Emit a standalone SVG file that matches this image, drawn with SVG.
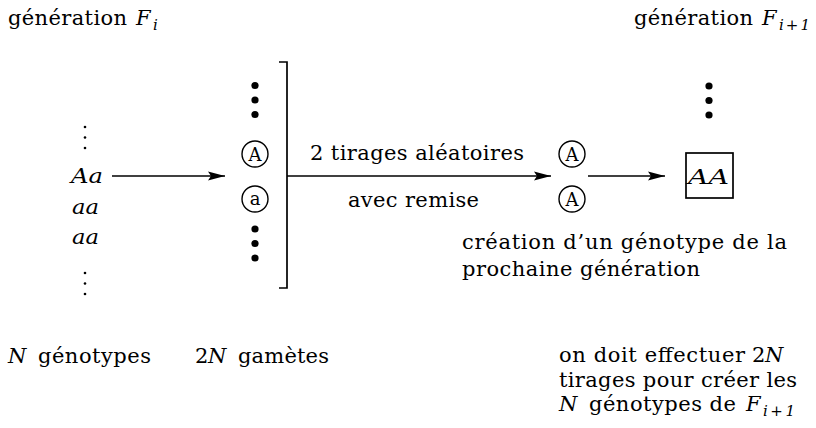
<svg xmlns="http://www.w3.org/2000/svg" width="816" height="428" viewBox="0 0 816 428">
<defs>
<style>
text{font-family:'DejaVu Serif',serif;font-size:21px;fill:#000}
.it{font-style:italic}
.sub{font-style:italic;font-size:15px}
.ln{stroke:#000;stroke-width:1.7;fill:none}
.circ{stroke:#000;stroke-width:1.4;fill:#fff}
.ct{font-size:18px;text-anchor:middle}
</style>
<marker id="ah" markerWidth="18" markerHeight="10" viewBox="0 0 18 10" refX="17" refY="5" orient="auto" markerUnits="userSpaceOnUse">
<path d="M0,0.5 L17,5 L0,9.5 L3,5 Z" fill="#000"/>
</marker>
</defs>
<g id="titles">
<text x="8" y="25" textLength="119">génération</text>
<text class="it" x="136" y="25">F</text>
<text class="sub" x="153" y="30">i</text>
<text x="634" y="25" textLength="119">génération</text>
<text class="it" x="762" y="25">F</text>
<text class="sub" x="779" y="30" textLength="31">i+1</text>
</g>
<g id="genotypes">
<circle cx="85" cy="127" r="1.3"/><circle cx="85" cy="137.5" r="1.3"/><circle cx="85" cy="148" r="1.3"/>
<text class="it" x="71" y="183" font-size="22" textLength="32" lengthAdjust="spacingAndGlyphs">Aa</text>
<text class="it" x="72" y="214" font-size="22" textLength="27" lengthAdjust="spacingAndGlyphs">aa</text>
<text class="it" x="72" y="244" font-size="22" textLength="27" lengthAdjust="spacingAndGlyphs">aa</text>
<circle cx="85" cy="273" r="1.3"/><circle cx="85" cy="283.5" r="1.3"/><circle cx="85" cy="294" r="1.3"/>
</g>
<g id="gametes">
<circle cx="255" cy="85.5" r="3.6"/><circle cx="255" cy="100" r="3.6"/><circle cx="255" cy="114.5" r="3.6"/>
<circle class="circ" cx="255" cy="154" r="13"/>
<text class="ct" x="255" y="160.5">A</text>
<circle class="circ" cx="255" cy="199" r="13"/>
<text class="ct" x="255" y="204.5">a</text>
<circle cx="255" cy="229" r="3.6"/><circle cx="255" cy="243.5" r="3.6"/><circle cx="255" cy="258" r="3.6"/>
</g>
<g id="bracket">
<path class="ln" d="M279,62 H287 V288 H279"/>
</g>
<g id="tirage">
<circle class="circ" cx="572" cy="154" r="13"/>
<text class="ct" x="572" y="160.5">A</text>
<circle class="circ" cx="572" cy="199" r="13"/>
<text class="ct" x="572" y="205.5">A</text>
</g>
<g id="nouveau">
<circle cx="709" cy="86" r="3.6"/><circle cx="709" cy="100.5" r="3.6"/><circle cx="709" cy="115" r="3.6"/>
<rect class="ln" x="686" y="153" width="47" height="45" stroke-width="1.5"/>
<text class="it" x="688" y="184" font-size="24" textLength="41" lengthAdjust="spacingAndGlyphs">AA</text>
</g>
<g id="connectors">
<line class="ln" x1="112" y1="176" x2="225" y2="176" marker-end="url(#ah)"/>
<line class="ln" x1="287" y1="176" x2="551" y2="176" marker-end="url(#ah)"/>
<line class="ln" x1="588" y1="176" x2="665" y2="176" marker-end="url(#ah)"/>
</g>
<g id="labels">
<text x="310" y="160" textLength="214">2 tirages aléatoires</text>
<text x="348" y="207" textLength="131">avec remise</text>
<text x="462" y="249" textLength="325">création d’un génotype de la</text>
<text x="462" y="276" textLength="238">prochaine génération</text>
<text class="it" x="8" y="363">N</text>
<text x="38" y="363" textLength="113">génotypes</text>
<text x="195" y="363">2</text>
<text class="it" x="208" y="363">N</text>
<text x="238" y="363" textLength="91">gamètes</text>
<text x="559" y="362" textLength="186">on doit effectuer</text>
<text x="752" y="362">2</text>
<text class="it" x="765" y="362">N</text>
<text x="559" y="387" textLength="238">tirages pour créer les</text>
<text class="it" x="559" y="411">N</text>
<text x="589" y="411" textLength="147">génotypes de</text>
<text class="it" x="746" y="411">F</text>
<text class="sub" x="763" y="416" textLength="32">i+1</text>
</g>
</svg>
